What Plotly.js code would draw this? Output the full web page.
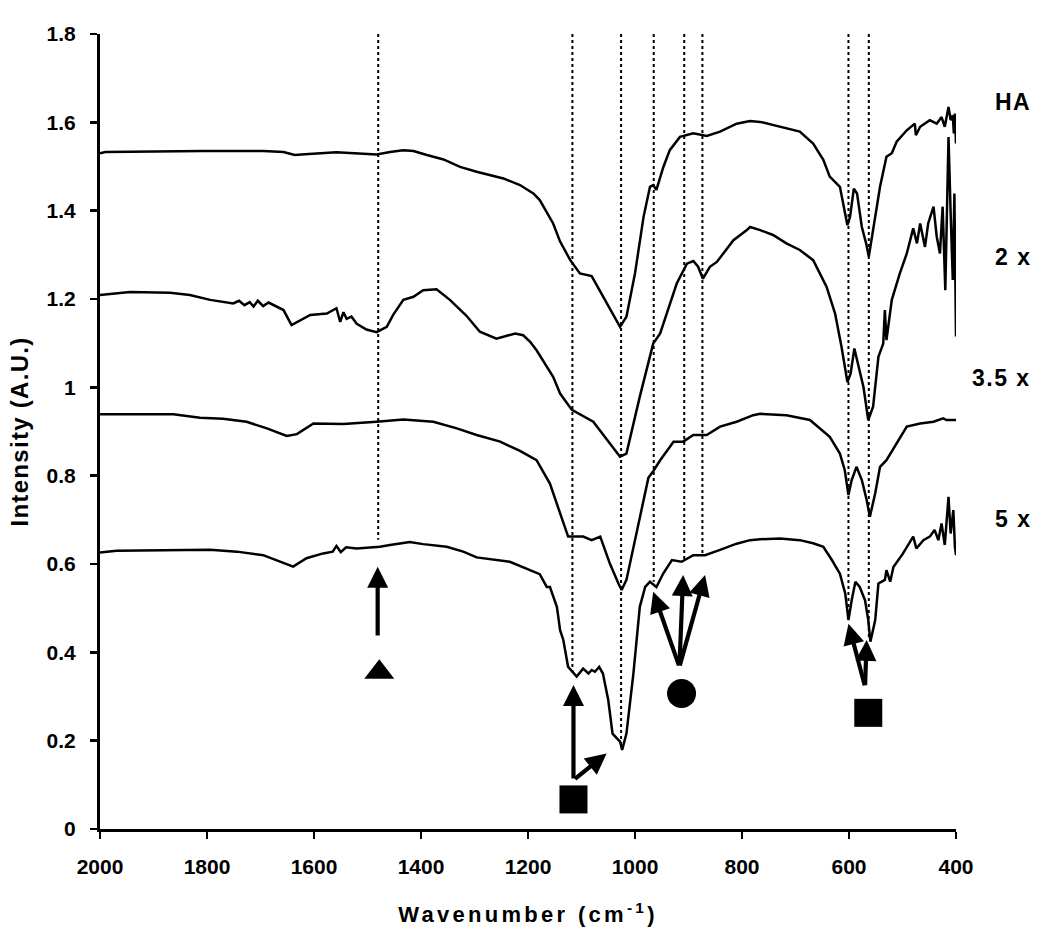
<!DOCTYPE html>
<html>
<head>
<meta charset="utf-8">
<script src="https://cdn.plot.ly/plotly-3.0.1.min.js"></script>
<style>
html,body{margin:0;padding:0;background:#fff;}
.g-xtitle text{letter-spacing:3.3px;}
.g-ytitle text{letter-spacing:1.3px;}
.annotation-text{letter-spacing:1.5px;}
</style>
</head>
<body>
<div id="chart" style="width:1050px;height:940px;"></div>
<script>
// ---- Spectra (wavenumber, intensity) ----
const haW = [2000,1990,1807,1695,1657,1636,1617,1558,1483,1458,1433,1414,1389,1358,1327,1296,1246,1215,1190,1178,1153,1140,1121,1103,1081,1053,1028,1016,1000,984,972,966,960,947,935,916,891,866,841,810,785,766,729,692,667,648,636,617,603,598,591,585,576,568,563,555,542,530,520,511,492,477,475,467,449,436,427,421,414,410,406,404,402,400];
const haV = [1.530,1.533,1.535,1.535,1.533,1.526,1.528,1.532,1.527,1.533,1.537,1.535,1.526,1.516,1.499,1.488,1.473,1.458,1.439,1.424,1.371,1.330,1.288,1.258,1.252,1.190,1.137,1.160,1.258,1.386,1.454,1.458,1.447,1.499,1.537,1.567,1.575,1.569,1.579,1.597,1.603,1.601,1.590,1.579,1.552,1.515,1.477,1.454,1.367,1.386,1.450,1.439,1.363,1.326,1.296,1.356,1.454,1.522,1.530,1.556,1.582,1.597,1.571,1.590,1.605,1.597,1.612,1.590,1.635,1.605,1.616,1.575,1.620,1.552];

const x2W = [2000,1944,1869,1832,1794,1751,1740,1730,1720,1713,1705,1695,1685,1676,1657,1642,1626,1607,1576,1558,1551,1545,1539,1530,1520,1502,1483,1464,1452,1433,1414,1396,1371,1346,1315,1290,1259,1224,1209,1196,1184,1153,1140,1118,1078,1028,1016,991,966,953,922,903,891,882,873,860,847,816,791,785,766,742,717,692,667,642,626,614,603,597,590,583,573,564,555,545,536,533,530,520,505,492,480,473,467,458,452,442,436,430,425,420,414,410,406,403,400];
const x2V = [1.209,1.216,1.214,1.209,1.198,1.190,1.196,1.186,1.193,1.183,1.196,1.184,1.192,1.186,1.175,1.141,1.152,1.164,1.167,1.179,1.148,1.170,1.155,1.160,1.144,1.131,1.125,1.137,1.164,1.198,1.205,1.220,1.222,1.198,1.162,1.126,1.110,1.122,1.118,1.103,1.084,1.024,0.986,0.949,0.922,0.843,0.850,0.979,1.099,1.122,1.235,1.280,1.286,1.273,1.246,1.273,1.284,1.333,1.356,1.363,1.356,1.345,1.326,1.311,1.288,1.228,1.167,1.092,1.012,1.031,1.088,1.054,1.001,0.926,0.956,1.069,1.099,1.175,1.107,1.198,1.258,1.303,1.360,1.326,1.371,1.318,1.371,1.409,1.341,1.303,1.409,1.220,1.567,1.394,1.243,1.439,1.115];

const x35W = [2000,1863,1813,1770,1726,1688,1651,1632,1601,1545,1483,1433,1377,1333,1296,1252,1215,1184,1159,1140,1125,1097,1081,1065,1047,1031,1025,1016,1000,984,975,966,953,935,928,910,891,866,841,810,779,766,717,673,642,636,617,608,601,595,586,576,567,561,551,542,530,511,492,467,442,424,418,400];
const x35V = [0.939,0.939,0.931,0.929,0.922,0.907,0.890,0.894,0.918,0.917,0.922,0.927,0.922,0.907,0.892,0.877,0.856,0.835,0.782,0.714,0.662,0.662,0.654,0.662,0.601,0.556,0.541,0.564,0.654,0.752,0.795,0.810,0.835,0.865,0.877,0.877,0.892,0.892,0.911,0.922,0.937,0.940,0.937,0.926,0.895,0.888,0.850,0.813,0.756,0.790,0.820,0.790,0.745,0.707,0.760,0.820,0.835,0.873,0.911,0.918,0.922,0.930,0.926,0.926];

const x5W = [2000,1969,1794,1744,1695,1670,1639,1614,1583,1565,1558,1550,1540,1520,1477,1458,1421,1396,1352,1321,1296,1234,1202,1178,1165,1159,1146,1140,1134,1125,1109,1097,1087,1081,1075,1067,1060,1050,1042,1028,1024,1016,1003,991,981,972,960,947,931,913,891,869,841,810,785,766,729,692,667,648,632,617,607,601,595,588,580,570,564,560,551,545,533,530,523,517,499,480,474,461,449,440,433,427,421,414,410,405,402,400];
const x5V = [0.626,0.630,0.632,0.628,0.620,0.609,0.594,0.613,0.624,0.628,0.641,0.627,0.638,0.635,0.639,0.643,0.650,0.645,0.639,0.628,0.615,0.605,0.590,0.577,0.548,0.548,0.503,0.450,0.428,0.367,0.345,0.363,0.352,0.360,0.356,0.367,0.352,0.292,0.216,0.198,0.179,0.216,0.352,0.503,0.548,0.560,0.548,0.579,0.609,0.605,0.620,0.620,0.632,0.646,0.654,0.656,0.658,0.654,0.647,0.639,0.609,0.578,0.533,0.473,0.518,0.560,0.548,0.518,0.473,0.424,0.473,0.556,0.564,0.586,0.560,0.593,0.624,0.662,0.635,0.654,0.662,0.677,0.654,0.692,0.643,0.752,0.669,0.722,0.639,0.620];

// ---- Series labels ----
const seriesLabels = ["HA", "2 x", "3.5 x", "5 x"];
const labelV = [1.647, 1.296, 1.021, 0.702];

// ---- Dotted guide lines at band positions ----
const bandW = [1480, 1117, 1026, 965, 908, 874, 601, 563];
const bandTop = 1.8;
const bandBottom = [0.655, 0.355, 0.19, 0.56, 0.61, 0.62, 0.48, 0.435];

// ---- Arrows (tail -> head) ----
const arrowTailW = [1481, 1115, 1115, 917, 917, 917, 570, 570];
const arrowTailV = [0.435, 0.111, 0.111, 0.367, 0.367, 0.367, 0.322, 0.322];
const arrowHeadW = [1481, 1115, 1053, 966, 910, 869, 601, 567];
const arrowHeadV = [0.594, 0.326, 0.171, 0.537, 0.575, 0.575, 0.465, 0.428];

// ---- Assignment symbols ----
const symbolW = [1478, 1115, 913, 564];
const symbolV = [0.355, 0.067, 0.307, 0.263];
const symbolShape = ["triangle-up", "square", "circle", "square"];
const symbolSize = [26, 28, 29, 28];

const FONT = "Liberation Sans, Arial, Helvetica, sans-serif";
const traces = [];
[[haW, haV], [x2W, x2V], [x35W, x35V], [x5W, x5V]].forEach((s, i) => {
  traces.push({x: s[0], y: s[1], type: "scatter", mode: "lines",
    line: {color: "#000", width: 2.5},
    name: seriesLabels[i], showlegend: false, hoverinfo: "skip"});
});
// dotted lines
const dx = [], dy = [];
bandW.forEach((w, i) => { dx.push(w, w, null); dy.push(bandTop, bandBottom[i], null); });
traces.push({x: dx, y: dy, type: "scatter", mode: "lines",
  line: {color: "#000", width: 2, dash: "dot"}, showlegend: false, hoverinfo: "skip"});
// symbols
traces.push({x: symbolW, y: symbolV, type: "scatter", mode: "markers",
  marker: {symbol: symbolShape, size: symbolSize, color: "#000", opacity: 1,
    line: {width: 0}},
  opacity: 1, showlegend: false, hoverinfo: "skip"});

const annotations = [];
arrowHeadW.forEach((w, i) => {
  annotations.push({x: w, y: arrowHeadV[i], xref: "x", yref: "y",
    ax: arrowTailW[i], ay: arrowTailV[i], axref: "x", ayref: "y",
    text: "", showarrow: true, arrowhead: 2, arrowsize: 1.0, arrowwidth: 4.2,
    arrowcolor: "#000", standoff: 0, startstandoff: 0});
});
seriesLabels.forEach((t, i) => {
  annotations.push({x: 1.09, y: labelV[i], xref: "paper", yref: "y",
    xanchor: "right", yanchor: "middle", text: t, showarrow: false,
    font: {family: FONT, size: 23, color: "#000", weight: "bold"}});
});

const layout = {
  width: 1050, height: 940, autosize: false,
  margin: {l: 100, r: 94, t: 34, b: 111},
  paper_bgcolor: "#fff", plot_bgcolor: "#fff",
  font: {family: FONT, color: "#000"},
  showlegend: false,
  xaxis: {
    range: [2000, 400], tick0: 0, dtick: 200, tickmode: "linear",
    showgrid: false, zeroline: false, showline: true, linecolor: "#000", linewidth: 3,
    ticks: "outside", ticklen: 7, tickwidth: 2.5, tickcolor: "#000",
    tickfont: {family: FONT, size: 21, color: "#000", weight: "bold"},
    ticklabelstandoff: 10,
    title: {text: "Wavenumber (cm<sup>-1</sup>)", standoff: 30,
      font: {family: FONT, size: 22, color: "#000", weight: "bold"}}
  },
  yaxis: {
    range: [0, 1.8], tick0: 0, dtick: 0.2, tickmode: "linear",
    showgrid: false, zeroline: false, showline: true, linecolor: "#000", linewidth: 3,
    ticks: "outside", ticklen: 7, tickwidth: 2.5, tickcolor: "#000",
    tickfont: {family: FONT, size: 21, color: "#000", weight: "bold"},
    ticklabelstandoff: 10,
    title: {text: "Intensity (A.U.)", standoff: 12,
      font: {family: FONT, size: 24, color: "#000", weight: "bold"}}
  },
  annotations: annotations
};

Plotly.newPlot("chart", traces, layout, {displayModeBar: false, staticPlot: true});
</script>
</body>
</html>
